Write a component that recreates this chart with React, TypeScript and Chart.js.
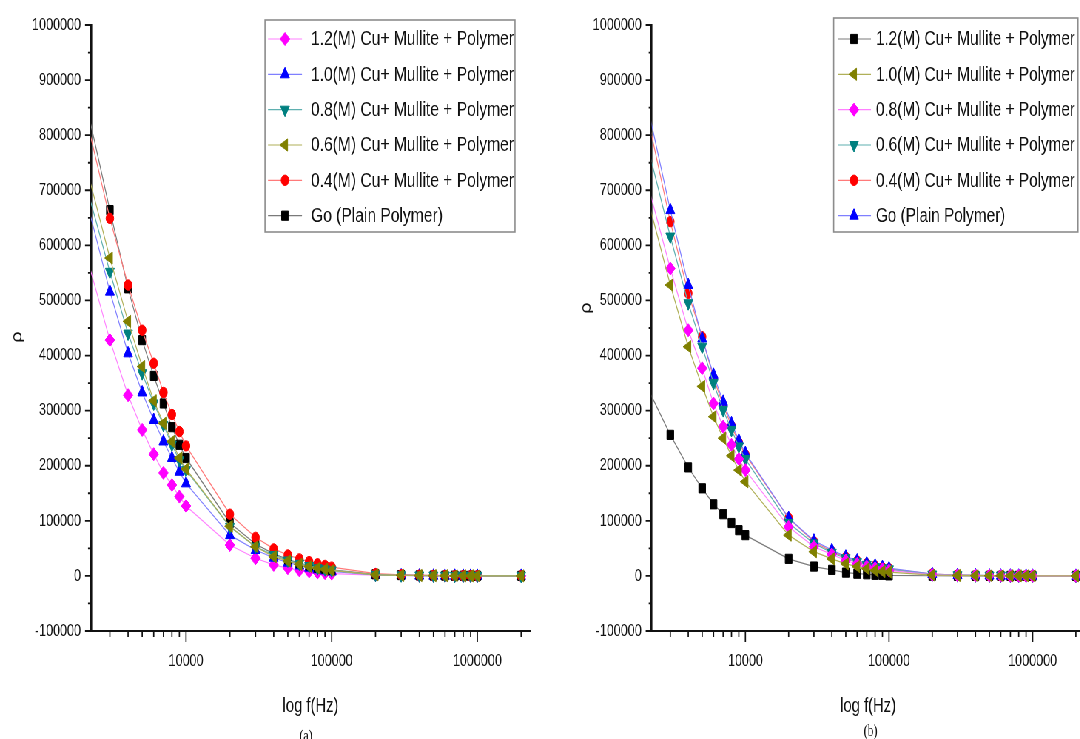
import React, { useEffect, useRef } from 'react';
import { Chart, registerables } from 'chart.js';
import { drawPoint } from 'chart.js/helpers';

Chart.register(...registerables);

// ---------------- data ----------------
const freqs = [
  2000, 3000, 4000, 5000, 6000, 7000, 8000, 9000, 10000,
  20000, 30000, 40000, 50000, 60000, 70000, 80000, 90000, 100000,
  200000, 300000, 400000, 500000, 600000, 700000, 800000, 900000, 1000000, 2000000,
];

const xMajorTicks = [10000, 100000, 1000000];
const xMinorTicks = [
  3000, 4000, 5000, 6000, 7000, 8000, 9000,
  20000, 30000, 40000, 50000, 60000, 70000, 80000, 90000,
  200000, 300000, 400000, 500000, 600000, 700000, 800000, 900000, 2000000,
];
const yTickValues = [
  -100000, 0, 100000, 200000, 300000, 400000, 500000, 600000, 700000, 800000, 900000, 1000000,
];
const yMinorTicks = [
  -50000, 50000, 150000, 250000, 350000, 450000, 550000, 650000, 750000, 850000, 950000,
];

const xTitle = 'log f(Hz)';
const yTitle = 'ρ';

// panel (a)
const labelsA = [
  '1.2(M) Cu+ Mullite + Polymer',
  '1.0(M) Cu+ Mullite + Polymer',
  '0.8(M) Cu+ Mullite + Polymer',
  '0.6(M) Cu+ Mullite + Polymer',
  '0.4(M) Cu+ Mullite + Polymer',
  'Go (Plain Polymer)',
];
const a12 = [596000, 428000, 328000, 265000, 221000, 187000, 165000, 144000, 127000, 56000, 32000, 20000, 14000, 10000, 8000, 6000, 5000, 4000, 1500, 800, 500, 300, 200, 150, 100, 80, 60, 30];
const a10 = [698000, 516000, 404000, 333000, 283000, 244000, 214000, 189000, 168000, 74000, 47000, 33000, 24000, 19000, 15000, 12000, 10000, 8000, 1800, 900, 600, 400, 300, 200, 150, 100, 80, 40];
const a08 = [722000, 552000, 440000, 368000, 313000, 274000, 238000, 210000, 192000, 89000, 53000, 38000, 28000, 22000, 18000, 14000, 12000, 10000, 2000, 1000, 700, 500, 350, 250, 200, 150, 100, 50];
const a06 = [757000, 577000, 462000, 380000, 318000, 277000, 244000, 214000, 194000, 90000, 53000, 35000, 27000, 21000, 17000, 14000, 12000, 10000, 2000, 1000, 700, 500, 350, 250, 200, 150, 100, 50];
const a04 = [847000, 649000, 528000, 446000, 386000, 333000, 293000, 262000, 236000, 112000, 70000, 49000, 38000, 31000, 26000, 22000, 19000, 16000, 4000, 2000, 1200, 800, 600, 400, 300, 250, 200, 80];
const aGo = [873000, 664000, 522000, 428000, 363000, 313000, 270000, 238000, 214000, 96000, 58000, 40000, 30000, 23000, 19000, 15000, 13000, 11000, 3000, 1500, 900, 600, 450, 350, 250, 200, 150, 60];

// panel (b)
const labelsB = [
  '1.2(M) Cu+ Mullite + Polymer',
  '1.0(M) Cu+ Mullite + Polymer',
  '0.8(M) Cu+ Mullite + Polymer',
  '0.6(M) Cu+ Mullite + Polymer',
  '0.4(M) Cu+ Mullite + Polymer',
  'Go (Plain Polymer)',
];
const b12 = [351000, 256000, 197000, 159000, 130000, 112000, 96000, 83000, 74000, 31000, 17000, 11000, 6000, 4000, 3000, 2000, 2000, 1000, 300, 200, 100, 80, 60, 50, 40, 30, 20, 10];
const b10 = [703000, 528000, 416000, 344000, 289000, 250000, 218000, 192000, 171000, 74000, 44000, 31000, 22000, 17000, 13000, 10000, 8000, 7000, 1500, 800, 500, 350, 250, 200, 150, 100, 80, 40];
const b08 = [729000, 558000, 446000, 377000, 313000, 271000, 238000, 212000, 192000, 89000, 53000, 39000, 28000, 22000, 17000, 14000, 12000, 10000, 2000, 1000, 700, 500, 350, 250, 200, 150, 100, 50];
const b06 = [799000, 616000, 495000, 416000, 350000, 301000, 265000, 235000, 212000, 96000, 59000, 42000, 32000, 25000, 20000, 16000, 14000, 12000, 2500, 1200, 800, 550, 400, 300, 220, 170, 120, 60];
const b04 = [855000, 643000, 513000, 434000, 359000, 310000, 272000, 242000, 220000, 105000, 62000, 44000, 34000, 27000, 22000, 18000, 15000, 13000, 3500, 1600, 1000, 700, 500, 380, 300, 230, 180, 80];
const bGo = [874000, 664000, 528000, 431000, 365000, 316000, 277000, 246000, 223000, 105000, 64000, 47000, 35000, 28000, 23000, 19000, 16000, 14000, 3500, 1600, 1000, 700, 500, 380, 300, 230, 180, 80];

// ---------------- styles / layout ----------------
const SQUASH = 0.74; // horizontal compression of the reference picture
const FONT = "'Liberation Sans', Arial, Helvetica, sans-serif";
const SERIF = "'Liberation Serif', 'Times New Roman', serif";
const H = 739;

type Style = { marker: string; line: string; pointStyle: string; rotation: number; radius: number };
const MAGENTA: Style = { marker: '#ff00ff', line: '#ff80ff', pointStyle: 'rectRot', rotation: 0, radius: 6.5 };
const BLUE_UP: Style = { marker: '#0000ff', line: '#7f7fff', pointStyle: 'triangle', rotation: 0, radius: 7 };
const TEAL_DOWN: Style = { marker: '#008080', line: '#5fb0b0', pointStyle: 'triangle', rotation: 180, radius: 7 };
const OLIVE_LEFT: Style = { marker: '#808000', line: '#b0b058', pointStyle: 'triangle', rotation: 270, radius: 7 };
const RED: Style = { marker: '#ff0000', line: '#ff7a7a', pointStyle: 'circle', rotation: 0, radius: 5.2 };
const BLACK: Style = { marker: '#000000', line: '#7a7a7a', pointStyle: 'rect', rotation: 0, radius: 6.5 };

function makeDataset(label: string, values: number[], st: Style, order: number) {
  return {
    label,
    data: freqs.map((f, j) => ({ x: f, y: values[j] })),
    borderColor: st.line,
    backgroundColor: st.marker,
    pointBackgroundColor: st.marker,
    pointBorderColor: st.marker,
    pointBorderWidth: 1,
    pointStyle: st.pointStyle,
    pointRotation: st.rotation,
    pointRadius: st.radius,
    borderWidth: 1.2,
    tension: 0,
    order,
  };
}

type LegendLayout = {
  x0: number; x1: number; y0: number; y1: number;
  lineX0: number; lineX1: number; markerX: number; textX: number; textW: number; rowY: number[];
};
type PanelCfg = {
  width: number;
  areaLeft: number;
  padRight: number;
  datasets: any[];
  legend: LegendLayout;
  yTitleX: number; yTitleY: number;
  caption: string; captionX: number; captionBaseline: number;
};

const rows = [39, 74.3, 109.7, 145, 180.3, 215.7];
const L = (sx: number, offset: number) => sx / SQUASH - offset; // screen x -> logical x in a panel

const W_A = Math.round(540 / SQUASH);
const W_B = Math.round(560 / SQUASH);

const panelA: PanelCfg = {
  width: W_A,
  areaLeft: L(91, 0),
  padRight: W_A - L(530, 0),
  datasets: [
    makeDataset(labelsA[0], a12, MAGENTA, 5),
    makeDataset(labelsA[1], a10, BLUE_UP, 4),
    makeDataset(labelsA[2], a08, TEAL_DOWN, 1),
    makeDataset(labelsA[3], a06, OLIVE_LEFT, 0),
    makeDataset(labelsA[4], a04, RED, 2),
    makeDataset(labelsA[5], aGo, BLACK, 3),
  ],
  legend: {
    x0: L(265, 0), x1: L(515, 0), y0: 20, y1: 232,
    lineX0: L(268, 0), lineX1: L(302, 0), markerX: L(285, 0), textX: L(311, 0), textW: 203 / SQUASH, rowY: rows,
  },
  yTitleX: L(17.7, 0), yTitleY: 337,
  caption: '(a)', captionX: L(306, 0), captionBaseline: 741,
};

const panelB: PanelCfg = {
  width: W_B,
  areaLeft: L(651.7, W_A),
  padRight: W_B - L(1084.6, W_A),
  datasets: [
    makeDataset(labelsB[0], b12, BLACK, 5),
    makeDataset(labelsB[1], b10, OLIVE_LEFT, 0),
    makeDataset(labelsB[2], b08, MAGENTA, 1),
    makeDataset(labelsB[3], b06, TEAL_DOWN, 2),
    makeDataset(labelsB[4], b04, RED, 4),
    makeDataset(labelsB[5], bGo, BLUE_UP, 3),
  ],
  legend: {
    x0: L(833.7, W_A), x1: L(1078, W_A), y0: 18, y1: 232,
    lineX0: L(838, W_A), lineX1: L(871, W_A), markerX: L(854, W_A), textX: L(876, W_A), textW: 199 / SQUASH, rowY: rows,
  },
  yTitleX: L(586.5, W_A), yTitleY: 308,
  caption: '(b)', captionX: L(870.6, W_A), captionBaseline: 736,
};

function makeDecor(cfg: PanelCfg) {
  return {
    id: 'decor',
    afterDraw(chart: any) {
      const ctx = chart.ctx as CanvasRenderingContext2D;
      const area = chart.chartArea;
      const xs = chart.scales.x;
      const ys = chart.scales.y;
      ctx.save();
      // axis tick marks
      ctx.strokeStyle = '#111';
      ctx.lineWidth = 1.7;
      ctx.beginPath();
      for (const v of xMajorTicks) {
        const px = xs.getPixelForValue(v);
        ctx.moveTo(px, area.bottom);
        ctx.lineTo(px, area.bottom + 11);
      }
      for (const v of xMinorTicks) {
        const px = xs.getPixelForValue(v);
        ctx.moveTo(px, area.bottom);
        ctx.lineTo(px, area.bottom + 6);
      }
      ctx.stroke();
      ctx.lineWidth = 1.8;
      ctx.beginPath();
      for (const v of yTickValues) {
        const py = ys.getPixelForValue(v);
        ctx.moveTo(area.left, py);
        ctx.lineTo(area.left - 6 / SQUASH, py);
      }
      for (const v of yMinorTicks) {
        const py = ys.getPixelForValue(v);
        ctx.moveTo(area.left, py);
        ctx.lineTo(area.left - 3 / SQUASH, py);
      }
      ctx.stroke();

      // axis titles
      ctx.fillStyle = '#111';
      ctx.font = `20px ${FONT}`;
      ctx.textAlign = 'center';
      ctx.textBaseline = 'alphabetic';
      ctx.fillText(xTitle, (area.left + area.right) / 2, 712);
      ctx.save();
      ctx.translate(cfg.yTitleX, cfg.yTitleY);
      ctx.rotate(-Math.PI / 2);
      ctx.textBaseline = 'middle';
      ctx.fillText(yTitle, 0, 0);
      ctx.restore();

      // caption
      ctx.font = `16px ${SERIF}`;
      ctx.textAlign = 'center';
      ctx.textBaseline = 'alphabetic';
      ctx.fillText(cfg.caption, cfg.captionX, cfg.captionBaseline);

      // legend
      const lg = cfg.legend;
      ctx.fillStyle = '#ffffff';
      ctx.fillRect(lg.x0, lg.y0, lg.x1 - lg.x0, lg.y1 - lg.y0);
      ctx.strokeStyle = '#8c8c8c';
      ctx.lineWidth = 1.6;
      ctx.strokeRect(lg.x0, lg.y0, lg.x1 - lg.x0, lg.y1 - lg.y0);
      ctx.font = `19.5px ${FONT}`;
      const longest = Math.max(...chart.data.datasets.map((d: any) => ctx.measureText(d.label).width));
      const k = lg.textW / longest;
      chart.data.datasets.forEach((ds: any, i: number) => {
        const y = lg.rowY[i];
        ctx.strokeStyle = ds.borderColor;
        ctx.lineWidth = 1.2;
        ctx.beginPath();
        ctx.moveTo(lg.lineX0, y);
        ctx.lineTo(lg.lineX1, y);
        ctx.stroke();
        ctx.fillStyle = ds.pointBackgroundColor;
        ctx.strokeStyle = ds.pointBorderColor;
        ctx.lineWidth = 1;
        drawPoint(ctx, { pointStyle: ds.pointStyle, rotation: ds.pointRotation, radius: ds.pointRadius, borderWidth: 1 } as any, lg.markerX, y);
        ctx.save();
        ctx.translate(lg.textX, y + 1);
        ctx.scale(k, 1);
        ctx.fillStyle = '#111';
        ctx.font = `19.5px ${FONT}`;
        ctx.textAlign = 'left';
        ctx.textBaseline = 'middle';
        ctx.fillText(ds.label, 0, 0);
        ctx.restore();
      });
      ctx.restore();
    },
  };
}

function Panel({ cfg }: { cfg: PanelCfg }) {
  const ref = useRef<HTMLCanvasElement>(null);
  useEffect(() => {
    const canvas = ref.current;
    if (!canvas) return;
    const chart = new Chart(canvas, {
      type: 'line',
      data: { datasets: cfg.datasets },
      options: {
        responsive: false,
        animation: false,
        events: [],
        layout: { padding: { left: 0, right: cfg.padRight, top: 25, bottom: 0 } },
        plugins: { legend: { display: false }, tooltip: { enabled: false }, title: { display: false } },
        scales: {
          x: {
            type: 'logarithmic',
            min: 2226,
            max: 2300000,
            border: { display: true, color: '#111', width: 2 },
            grid: { display: true, drawOnChartArea: false, drawTicks: false },
            afterBuildTicks: (scale: any) => {
              scale.ticks = [...xMajorTicks, ...xMinorTicks].sort((p, q) => p - q).map((v) => ({ value: v }));
            },
            afterFit: (scale: any) => {
              scale.height = H - 631;
            },
            ticks: {
              autoSkip: false,
              maxRotation: 0,
              minRotation: 0,
              padding: 20,
              color: '#111',
              font: { family: FONT, size: 17 },
              callback: (v: any) => (xMajorTicks.includes(Number(v)) ? String(v) : ''),
            },
          },
          y: {
            type: 'linear',
            min: -100000,
            max: 1000000,
            border: { display: true, color: '#111', width: 2.6 },
            grid: { display: true, drawOnChartArea: false, drawTicks: false },
            afterBuildTicks: (scale: any) => {
              scale.ticks = yTickValues.map((v) => ({ value: v }));
            },
            afterFit: (scale: any) => {
              scale.width = cfg.areaLeft;
            },
            ticks: {
              padding: 10 / SQUASH,
              color: '#111',
              font: { family: FONT, size: 17 },
              callback: (v: any) => String(Math.round(Number(v))),
            },
          },
        },
      } as any,
      plugins: [makeDecor(cfg)],
    });
    return () => chart.destroy();
  }, [cfg]);
  return (
    <canvas
      ref={ref}
      width={cfg.width}
      height={H}
      style={{ display: 'block', flexShrink: 0, width: cfg.width + 'px', height: H + 'px' }}
    />
  );
}

export default function App() {
  return (
    <div style={{ position: 'absolute', left: 0, top: 0, width: 1080, height: H, overflow: 'hidden', background: '#ffffff' }}>
      <div
        style={{
          display: 'flex',
          width: W_A + W_B,
          height: H,
          transform: `scaleX(${SQUASH})`,
          transformOrigin: '0 0',
        }}
      >
        <Panel cfg={panelA} />
        <Panel cfg={panelB} />
      </div>
    </div>
  );
}
